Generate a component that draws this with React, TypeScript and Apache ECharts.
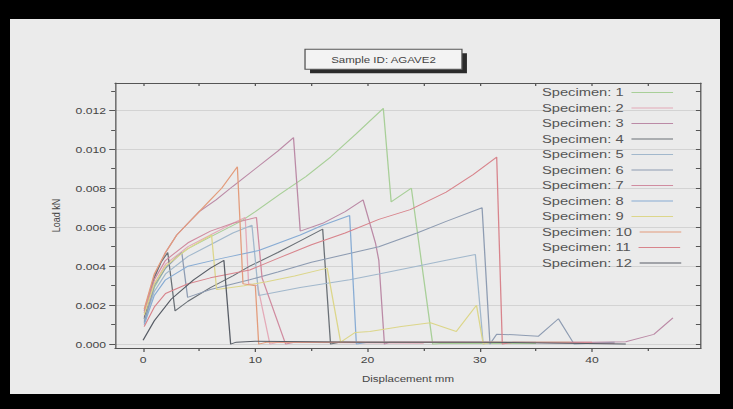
import React, { useEffect, useRef } from "react";
import * as echarts from "echarts";

// The reference picture is stretched horizontally; the chart is drawn narrower and widened by CSS.
const SX = 1.28;
const CHART_W = 573;
const CHART_H = 409;

const titleText = "Sample ID: AGAVE2";
const xName = "Displacement mm";
const yName = "Load kN";

const specimenNames = [
  "Specimen: 1", "Specimen: 2", "Specimen: 3", "Specimen: 4", "Specimen: 5", "Specimen: 6",
  "Specimen: 7", "Specimen: 8", "Specimen: 9", "Specimen: 10", "Specimen: 11", "Specimen: 12",
];

const specimenColors = [
  "#a8cf98", "#e4aab8", "#bb8aa6", "#6a7076", "#a2b8cc", "#8e9cb2",
  "#d08ca0", "#88acd4", "#dcd68a", "#e39c7c", "#d8848c", "#585d66",
];

// [displacement mm, load kN]
const spec1: [number, number][] = [
  [0.2, 0.0012], [1, 0.0029], [2, 0.0039], [3, 0.0045], [4, 0.0049], [6, 0.0055], [8.7, 0.0063],
  [10, 0.0068], [12.2, 0.0077], [14.5, 0.0086], [16.7, 0.0096], [19, 0.0108], [21.4, 0.0121],
  [22.1, 0.0073], [23.9, 0.008], [25.8, 0.0], [26.5, 0.00003], [35, 0.00003],
];
const spec2: [number, number][] = [
  [0.1, 0.0014], [1, 0.0031], [2, 0.0041], [4, 0.005], [6, 0.0056], [8, 0.0062], [9.1, 0.0065],
  [9.4, 0.0031], [10.2, 0.003], [11.3, 0.0], [12, 0.0001], [25, 0.00005],
];
const spec3: [number, number][] = [
  [0.1, 0.0017], [1, 0.0035], [2, 0.0047], [3, 0.0056], [4, 0.0062], [5, 0.0068], [6.5, 0.0074],
  [8, 0.0081], [10, 0.009], [12, 0.0099], [13.4, 0.0106], [14.0, 0.0058], [16, 0.0062], [18, 0.0068],
  [19.6, 0.0074], [20.7, 0.0052], [21.0, 0.0043], [21.5, 0.0], [22, 0.0001], [30, 0.0001],
  [40, 0.0001], [43, 0.00012], [45.5, 0.0005], [47.2, 0.00135],
];
const spec4: [number, number][] = [
  [0.1, 0.0013], [1, 0.0034], [1.6, 0.0042], [2.2, 0.0047], [2.85, 0.0017], [4, 0.0022], [6, 0.0029],
  [8, 0.0035], [9.5, 0.004], [12, 0.0047], [14, 0.0053], [16, 0.0059], [16.7, 0.0], [17.5, 0.0001],
  [30, 0.00008],
];
const spec5: [number, number][] = [
  [0.1, 0.0012], [1, 0.0027], [2, 0.0036], [4, 0.0045], [6, 0.0051], [8, 0.0057], [9.7, 0.0061],
  [10.3, 0.0025], [14, 0.0029], [18.4, 0.0033], [21, 0.0036], [24.4, 0.004], [27, 0.0043],
  [29.6, 0.0046], [30.3, 0.0], [31, 0.0001], [40, 0.00005],
];
const spec6: [number, number][] = [
  [0.1, 0.0011], [1, 0.003], [2, 0.0039], [3.45, 0.0047], [3.97, 0.0024], [6, 0.0028], [9.5, 0.0033],
  [12, 0.0037], [15, 0.0042], [18, 0.0046], [21, 0.005], [24.4, 0.0057], [27, 0.0063], [30.2, 0.007],
  [30.9, 0.0], [31.5, 0.0005], [33, 0.00048], [35.2, 0.0004], [37, 0.0013], [38.4, 0.0], [42, 0.0001],
];
const spec7: [number, number][] = [
  [0.1, 0.0016], [1, 0.0033], [2, 0.0043], [4, 0.0052], [6, 0.0058], [8, 0.0062], [10.1, 0.0065],
  [10.6, 0.0034], [12.7, 0.0], [13.5, 0.0001], [30, 0.0001], [42, 0.00005],
];
const spec8: [number, number][] = [
  [0.1, 0.001], [1, 0.0025], [2, 0.0033], [4, 0.004], [7, 0.0044], [10.3, 0.0048], [14, 0.0056],
  [16, 0.0061], [18.4, 0.0066], [19.0, 0.0], [20, 0.0001], [35, 0.0001],
];
const spec9: [number, number][] = [
  [0.1, 0.0015], [1, 0.0031], [2, 0.004], [4, 0.0049], [6.1, 0.0056], [6.55, 0.0028], [9, 0.003],
  [11, 0.0032], [13.5, 0.0035], [16.4, 0.0039], [17.6, 0.0001], [18.9, 0.0006], [20.2, 0.00065],
  [23, 0.0009], [25.6, 0.0011], [27.9, 0.00065], [29.7, 0.002], [30.3, 0.0], [31, 0.0001], [38, 0.0001],
];
const spec10: [number, number][] = [
  [0.1, 0.0018], [1, 0.0036], [2, 0.0047], [3, 0.0056], [4, 0.0062], [5, 0.0068], [6, 0.0074],
  [7, 0.008], [8.4, 0.0091], [8.9, 0.0031], [10.0, 0.003], [10.3, 0.0], [11, 0.0001], [32, 0.0001],
];
const spec11: [number, number][] = [
  [0.1, 0.0009], [1, 0.0019], [2, 0.0026], [4, 0.0031], [6, 0.0034], [9.5, 0.0038], [12, 0.0044],
  [15, 0.0051], [18, 0.0057], [21, 0.0064], [23.8, 0.0069], [27, 0.0078], [29.4, 0.0087],
  [31.5, 0.0096], [32.0, 0.0], [33, 0.0001], [40, 0.0001],
];
const spec12: [number, number][] = [
  [0.0, 0.0002], [1, 0.0012], [2.5, 0.0023], [4.5, 0.0033], [6, 0.0039], [7.2, 0.0043], [7.8, 0.0],
  [8.3, 0.0001], [10, 0.00015], [20, 0.0001], [30, 0.0001], [43, 0.0],
];

const specimens = [spec1, spec2, spec3, spec4, spec5, spec6, spec7, spec8, spec9, spec10, spec11, spec12];

const xMin = -2.5;
const xMax = 49.7;
const yMin = -0.0002;
const yMax = 0.0134;
const xMajorTicks = [0, 10, 20, 30, 40];
const xMinorTicks = [5, 15, 25, 35, 45];
const xAllTicks = [0, 5, 10, 15, 20, 25, 30, 35, 40, 45];
const yMajorTicks = [0, 0.002, 0.004, 0.006, 0.008, 0.01, 0.012];
const yMinorTicks = [0.001, 0.003, 0.005, 0.007, 0.009, 0.011, 0.013];
const yAllTicks = [0, 0.001, 0.002, 0.003, 0.004, 0.005, 0.006, 0.007, 0.008, 0.009, 0.01, 0.011, 0.012, 0.013];

const FONT = "'Liberation Sans', Arial, Helvetica, sans-serif";
const AXIS_COLOR = "#555";
const TEXT_COLOR = "#454545";

export default function App() {
  const ref = useRef<HTMLDivElement>(null);

  useEffect(() => {
    if (!ref.current) return;
    const chart = echarts.init(ref.current, null, { renderer: "svg" });

    const gridLeft = 115 / SX;
    const gridRight = 701 / SX;

    const rich: Record<string, any> = {
      gap: { width: 6, height: 1 },
    };
    specimenColors.forEach((c, i) => {
      rich["s" + i] = { width: 32.5, height: 1, backgroundColor: c, lineHeight: 14 };
    });

    const baseX = {
      type: "value",
      min: xMin,
      max: xMax,
      gridIndex: 0,
      splitLine: { show: false },
    };
    const baseY = {
      type: "value",
      min: yMin,
      max: yMax,
      gridIndex: 0,
      splitLine: { show: false },
    };

    const option: any = {
      animation: false,
      backgroundColor: "transparent",
      textStyle: { fontFamily: FONT },
      grid: {
        left: gridLeft,
        top: 83,
        width: gridRight - gridLeft,
        height: 265,
        containLabel: false,
      },
      legend: {
        data: specimenNames,
        orient: "vertical",
        left: 418.4,
        top: 85.5,
        padding: 0,
        itemWidth: 0,
        itemHeight: 14,
        itemGap: 1.5,
        selectedMode: false,
        icon: "rect",
        itemStyle: { opacity: 0 },
        lineStyle: { opacity: 0 },
        formatter: (name: string) => {
          const i = specimenNames.indexOf(name);
          return `${name}{gap| }{s${i}| }`;
        },
        textStyle: {
          fontFamily: FONT,
          fontSize: 11.5,
          color: "#555",
          lineHeight: 14,
          rich,
        },
      },
      xAxis: [
        {
          ...baseX,
          position: "bottom",
          axisLine: { show: true, onZero: false, lineStyle: { color: AXIS_COLOR, width: 1 } },
          axisTick: { show: true, length: 4, customValues: xMajorTicks, lineStyle: { color: AXIS_COLOR } },
          axisLabel: {
            show: true,
            customValues: xMajorTicks,
            margin: 7,
            fontSize: 9.5,
            color: TEXT_COLOR,
            fontFamily: FONT,
          },
          name: xName,
          nameLocation: "middle",
          nameGap: 26,
          nameTextStyle: { fontSize: 9, color: TEXT_COLOR, fontFamily: FONT },
        },
        {
          ...baseX,
          position: "bottom",
          axisLine: { show: false, onZero: false },
          axisTick: { show: true, length: 3, customValues: xMinorTicks, lineStyle: { color: AXIS_COLOR } },
          axisLabel: { show: false },
        },
        {
          ...baseX,
          position: "top",
          axisLine: { show: true, onZero: false, lineStyle: { color: AXIS_COLOR, width: 1 } },
          axisTick: { show: true, inside: true, length: 3, customValues: xAllTicks, lineStyle: { color: AXIS_COLOR } },
          axisLabel: { show: false },
        },
      ],
      yAxis: [
        {
          ...baseY,
          position: "left",
          axisLine: { show: true, onZero: false, lineStyle: { color: AXIS_COLOR, width: 1 } },
          axisTick: { show: true, length: 4.5, customValues: yMajorTicks, lineStyle: { color: AXIS_COLOR } },
          axisLabel: {
            show: true,
            customValues: yMajorTicks,
            margin: 7,
            fontSize: 9.5,
            color: TEXT_COLOR,
            fontFamily: FONT,
            formatter: (v: number) => v.toFixed(3),
          },
          splitLine: { show: true, lineStyle: { color: "#d3d3d3", width: 1 } },
          name: yName,
          nameLocation: "middle",
          nameGap: 41,
          nameRotate: 90,
          nameTextStyle: { fontSize: 9, color: TEXT_COLOR, fontFamily: FONT },
        },
        {
          ...baseY,
          position: "left",
          axisLine: { show: false, onZero: false },
          axisTick: { show: true, length: 3, customValues: yMinorTicks, lineStyle: { color: AXIS_COLOR } },
          axisLabel: { show: false },
        },
        {
          ...baseY,
          position: "right",
          axisLine: { show: true, onZero: false, lineStyle: { color: AXIS_COLOR, width: 1 } },
          axisTick: { show: true, inside: true, length: 4, customValues: yAllTicks, lineStyle: { color: AXIS_COLOR } },
          axisLabel: { show: false },
        },
      ],
      graphic: [
        {
          type: "rect",
          z: 10,
          shape: { x: 242.2, y: 53.3, width: 122.6, height: 20 },
          style: { fill: "#2b2b2b" },
        },
        {
          type: "rect",
          z: 11,
          shape: { x: 238.3, y: 49.3, width: 122.6, height: 20 },
          style: { fill: "#f3f3f3", stroke: "#555", lineWidth: 1 },
        },
        {
          type: "text",
          z: 12,
          x: 299.6,
          y: 59.5,
          style: {
            text: titleText,
            fontSize: 9,
            fontFamily: FONT,
            fill: "#444",
            align: "center",
            verticalAlign: "middle",
          },
        },
      ],
      series: specimens.map((d, i) => ({
        name: specimenNames[i],
        type: "line",
        xAxisIndex: 0,
        yAxisIndex: 0,
        data: d,
        symbol: "none",
        showSymbol: false,
        clip: true,
        lineStyle: { width: 1, color: specimenColors[i] },
        itemStyle: { color: specimenColors[i] },
        emphasis: { disabled: true },
      })),
    };

    chart.setOption(option);
    return () => {
      chart.dispose();
    };
  }, []);

  return (
    <div
      style={{
        position: "fixed",
        left: 0,
        top: 0,
        width: 733,
        height: 409,
        background: "#000",
        overflow: "hidden",
      }}
    >
      <div
        style={{
          position: "absolute",
          left: 10,
          top: 19,
          width: 710,
          height: 375,
          background: "#ebebeb",
        }}
      />
      <div
        ref={ref}
        style={{
          position: "absolute",
          left: 0,
          top: 0,
          width: CHART_W,
          height: CHART_H,
          transform: `scaleX(${SX})`,
          transformOrigin: "0 0",
        }}
      />
    </div>
  );
}
